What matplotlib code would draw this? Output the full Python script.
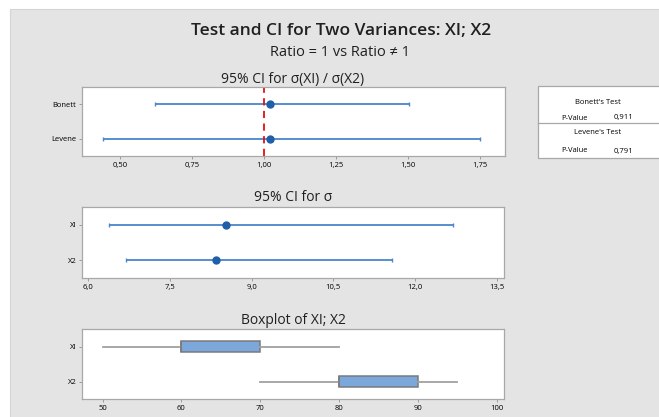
import numpy as np
import matplotlib
matplotlib.use("Agg")
import matplotlib.pyplot as plt
from matplotlib.patches import Rectangle

# ratio CI panel
tests = ["Bonett", "Levene"]
ratio_est = [1.02, 1.02]
ratio_lo = [0.62, 0.442]
ratio_hi = [1.503, 1.75]
p_values = ["0,911", "0,791"]

# sigma CI panel
groups = ["XI", "X2"]
sigma_est = [8.54, 8.35]
sigma_lo = [6.38, 6.69]
sigma_hi = [12.70, 11.57]

# boxplot panel (min, q1, q3, max)
box_min = [50, 70]
box_q1 = [60, 80]
box_q3 = [70, 90]
box_max = [80, 95]

W, H = 659, 417
plt.rcParams['font.family'] = ['Open Sans', 'DejaVu Sans']
fig = plt.figure(figsize=(W/100, H/100), dpi=100)
fig.patch.set_facecolor('white')
fig.patches.append(Rectangle((10/W, -0.1), 1, 1.1-9/H, transform=fig.transFigure,
                             facecolor='#e4e4e4', edgecolor='#d4d4d4', lw=0.8, zorder=-10))

def ax_px(l, r, t, b):
    return fig.add_axes([l/W, 1-b/H, (r-l)/W, (b-t)/H])

def style(ax, labels):
    for s in ax.spines.values():
        s.set_color('#a8a8a8')
        s.set_linewidth(0.9)
    ax.set_yticks([0, 1])
    ax.set_yticklabels(labels, fontsize=5.5)
    ax.set_ylim(1.5, -0.5)
    ax.tick_params(axis='both', length=2.5, width=0.6, color='#909090', pad=1.5, labelsize=5.5)

blue = '#4a86c8'
dot = '#1f5fa8'

fig.text(341/W, 1-31/H, "Test and CI for Two Variances: XI; X2", ha='center', va='center',
         fontsize=12.5, fontweight='semibold', color='#202020')
fig.text(340/W, 1-52/H, "Ratio = 1 vs Ratio \u2260 1", ha='center', va='center',
         fontsize=10.5, color='#202020')

# panel 1
ax1 = ax_px(82, 505, 87, 156)
style(ax1, tests)
for i in range(len(tests)):
    ax1.errorbar(ratio_est[i], i, xerr=[[ratio_est[i]-ratio_lo[i]], [ratio_hi[i]-ratio_est[i]]],
                 fmt='o', color=dot, ecolor=blue, elinewidth=1.3, capsize=1.5, capthick=1,
                 markersize=5)
ax1.axvline(1.0, color='#e01010', ls=(0, (4, 3)), lw=1.3)
ax1.set_xlim(0.368, 1.837)
ax1.set_xticks([0.5, 0.75, 1.0, 1.25, 1.5, 1.75])
ax1.set_xticklabels(["0,50", "0,75", "1,00", "1,25", "1,50", "1,75"])
fig.text(293/W, 1-80/H, "95% CI for \u03c3(XI) / \u03c3(X2)", ha='center', va='center',
         fontsize=10, color='#202020')

# panel 2
ax2 = ax_px(82, 504, 207, 278)
style(ax2, groups)
for i in range(len(groups)):
    ax2.errorbar(sigma_est[i], i, xerr=[[sigma_est[i]-sigma_lo[i]], [sigma_hi[i]-sigma_est[i]]],
                 fmt='o', color=dot, ecolor=blue, elinewidth=1.3, capsize=1.5, capthick=1,
                 markersize=5)
ax2.set_xlim(5.89, 13.63)
ax2.set_xticks([6.0, 7.5, 9.0, 10.5, 12.0, 13.5])
ax2.set_xticklabels(["6,0", "7,5", "9,0", "10,5", "12,0", "13,5"])
fig.text(293/W, 1-198/H, "95% CI for \u03c3", ha='center', va='center',
         fontsize=10, color='#202020')

# panel 3
ax3 = ax_px(82, 504, 329, 399)
style(ax3, groups)
stats = []
for i in range(len(groups)):
    stats.append(dict(whislo=box_min[i], q1=box_q1[i], med=box_q1[i], q3=box_q3[i],
                      whishi=box_max[i], fliers=[]))
ax3.bxp(stats, positions=[0, 1], vert=False, widths=0.34, showcaps=False, patch_artist=True,
        boxprops=dict(facecolor='#7ba7db', edgecolor='#7a7a7a', lw=1.1),
        whiskerprops=dict(color='#a0a0a0', lw=1.3),
        medianprops=dict(color='#7a7a7a', lw=1.1))
ax3.set_ylim(1.5, -0.5)
ax3.set_yticks([0, 1])
ax3.set_yticklabels(groups)
ax3.set_xlim(47.4, 100.9)
ax3.set_xticks([50, 60, 70, 80, 90, 100])
fig.text(293/W, 1-321/H, "Boxplot of XI; X2", ha='center', va='center',
         fontsize=10, color='#202020')

# p-value table
fig.patches.append(Rectangle((538/W, 1-158/H), (W-538)/W + 0.01, 72/H, transform=fig.transFigure,
                             facecolor='white', edgecolor='#a8a8a8', lw=0.9, zorder=1))
fig.lines.append(plt.Line2D([538/W, 1], [1-123/H, 1-123/H], transform=fig.transFigure,
                            color='#a8a8a8', lw=0.9))
fig.text(598/W, 1-103/H, "Bonett's Test", ha='center', va='center', fontsize=5.5)
fig.text(575/W, 1-118/H, "P-Value", ha='center', va='center', fontsize=5.5)
fig.text(623/W, 1-118/H, p_values[0], ha='center', va='center', fontsize=5.5)
fig.text(598/W, 1-133/H, "Levene's Test", ha='center', va='center', fontsize=5.5)
fig.text(575/W, 1-151/H, "P-Value", ha='center', va='center', fontsize=5.5)
fig.text(623/W, 1-151/H, p_values[1], ha='center', va='center', fontsize=5.5)

fig.savefig("out.png", dpi=100)
